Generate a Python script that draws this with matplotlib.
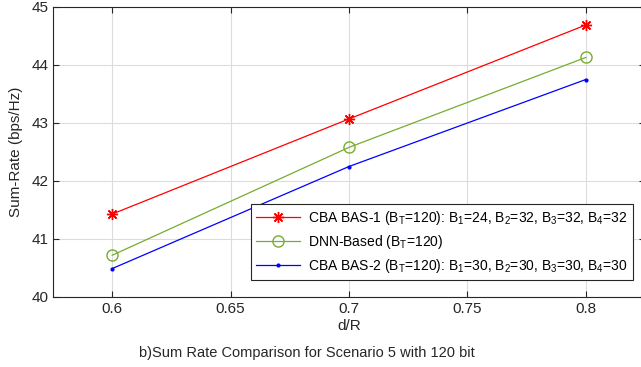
import matplotlib.pyplot as plt

plt.rcParams['font.family'] = ['Liberation Sans', 'DejaVu Sans']
plt.rcParams['mathtext.fontset'] = 'custom'
plt.rcParams['mathtext.rm'] = 'Liberation Sans'
plt.rcParams['mathtext.it'] = 'Liberation Sans'

# data
d_over_r = [0.6, 0.7, 0.8]
bas1 = [41.43, 43.07, 44.69]
dnn = [40.72, 42.58, 44.13]
bas2 = [40.49, 42.25, 43.75]

labels = [
    r'CBA BAS-1 (B$_T$=120): B$_1$=24, B$_2$=32, B$_3$=32, B$_4$=32',
    r'DNN-Based (B$_T$=120)',
    r'CBA BAS-2 (B$_T$=120): B$_1$=30, B$_2$=30, B$_3$=30, B$_4$=30',
]


def main():
    fig = plt.figure(figsize=(6.41, 3.67), dpi=100)
    ax = fig.add_axes([53 / 641, 70 / 367, 592 / 641, 290 / 367])

    ax.plot(d_over_r, bas1, color='red', marker=(8, 2, 0), markersize=8,
            markeredgewidth=1.0, linewidth=0.9, label=labels[0])
    ax.plot(d_over_r, dnn, color='#77ac30', marker='o', markersize=8,
            markerfacecolor='none', linewidth=0.9, label=labels[1])
    ax.plot(d_over_r, bas2, color='blue', marker='.', markersize=4,
            linewidth=0.9, label=labels[2])

    ax.set_xlim(0.575, 0.825)
    ax.set_ylim(40, 45)
    ax.set_xticks([0.6, 0.65, 0.7, 0.75, 0.8])
    ax.set_xticklabels(['0.6', '0.65', '0.7', '0.75', '0.8'])
    ax.set_yticks([40, 41, 42, 43, 44, 45])
    ax.grid(True, color='#dcdcdc', linewidth=0.8)
    ax.set_axisbelow(True)
    ax.tick_params(direction='in', top=True, right=True, labelsize=11,
                   color='#262626', labelcolor='#262626', length=4)
    for s in ax.spines.values():
        s.set_color('#262626')
        s.set_linewidth(0.8)

    ax.set_xlabel('d/R', fontsize=11, color='#262626', labelpad=2)
    ax.set_ylabel('Sum-Rate (bps/Hz)', fontsize=11, color='#262626', labelpad=6)

    leg = ax.legend(loc='lower right', bbox_to_anchor=(640 / 641, 80 / 367),
                    bbox_transform=fig.transFigure, fontsize=10,
                    fancybox=False, framealpha=1, edgecolor='#262626',
                    handlelength=3.2, borderpad=0.35, labelspacing=0.45,
                    handletextpad=0.6)
    leg.get_frame().set_linewidth(0.8)

    fig.text(307 / 641, 14 / 367,
             'b)Sum Rate Comparison for Scenario 5 with 120 bit',
             ha='center', va='center', fontsize=10.5, color='#262626')

    fig.savefig('out.png', dpi=100)
    plt.close(fig)


if __name__ == "__main__":
    main()
